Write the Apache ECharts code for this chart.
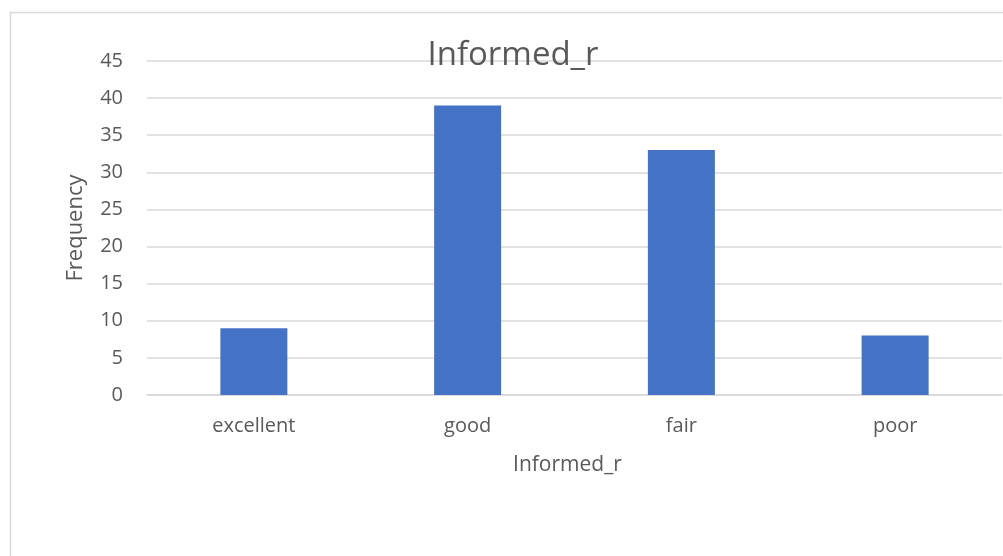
<!DOCTYPE html>
<html>
<head>
<meta charset="utf-8">
<script src="https://cdn.jsdelivr.net/npm/echarts@6/dist/echarts.min.js"></script>
<style>
  html, body { margin: 0; padding: 0; background: #fff; }
  #chart { width: 1003px; height: 556px; }
</style>
</head>
<body>
<div id="chart"></div>
<script>
// Response categories and their counts
const categories = ['excellent', 'good', 'fair', 'poor'];
const frequency = [9, 39, 33, 8];
const chartTitle = 'Informed_r';
const xAxisTitle = 'Informed_r';
const yAxisTitle = 'Frequency';

const FONT = '"Open Sans", "Liberation Sans", sans-serif';
const TEXT = '#595959';

const chart = echarts.init(document.getElementById('chart'), null, { renderer: 'canvas' });
chart.setOption({
  animation: false,
  backgroundColor: '#ffffff',
  graphic: [{
    type: 'rect',
    shape: { x: 10.5, y: 12.5, width: 1100, height: 700 },
    style: { fill: 'none', stroke: '#d9d9d9', lineWidth: 1.5 },
    silent: true, z: -1
  }],
  title: {
    text: chartTitle,
    left: 508, top: 34, textAlign: 'center',
    textStyle: { fontFamily: FONT, fontSize: 33, fontWeight: 'normal', color: TEXT }
  },
  grid: { left: 147, right: 1, top: 61, bottom: 161, containLabel: false },
  xAxis: {
    type: 'category',
    data: categories,
    name: xAxisTitle,
    nameLocation: 'middle',
    nameGap: 60,
    nameTextStyle: { fontFamily: FONT, fontSize: 21, color: TEXT, padding: [0, 14, 0, 0] },
    axisLine: { show: true, lineStyle: { color: '#d9d9d9', width: 1.5 } },
    axisTick: { show: false },
    axisLabel: { fontFamily: FONT, fontSize: 20, color: TEXT, margin: 21 }
  },
  yAxis: {
    type: 'value',
    min: 0, max: 45, interval: 5,
    name: yAxisTitle,
    nameLocation: 'middle',
    nameGap: 60,
    nameRotate: 90,
    nameTextStyle: { fontFamily: FONT, fontSize: 22, color: TEXT },
    axisLine: { show: false },
    axisTick: { show: false },
    axisLabel: { fontFamily: FONT, fontSize: 20, color: TEXT, margin: 24 },
    splitLine: { lineStyle: { color: '#d9d9d9', width: 1.5 } }
  },
  series: [{
    type: 'bar',
    data: frequency,
    barWidth: 67,
    itemStyle: { color: '#4472c4' }
  }]
});
</script>
</body>
</html>
